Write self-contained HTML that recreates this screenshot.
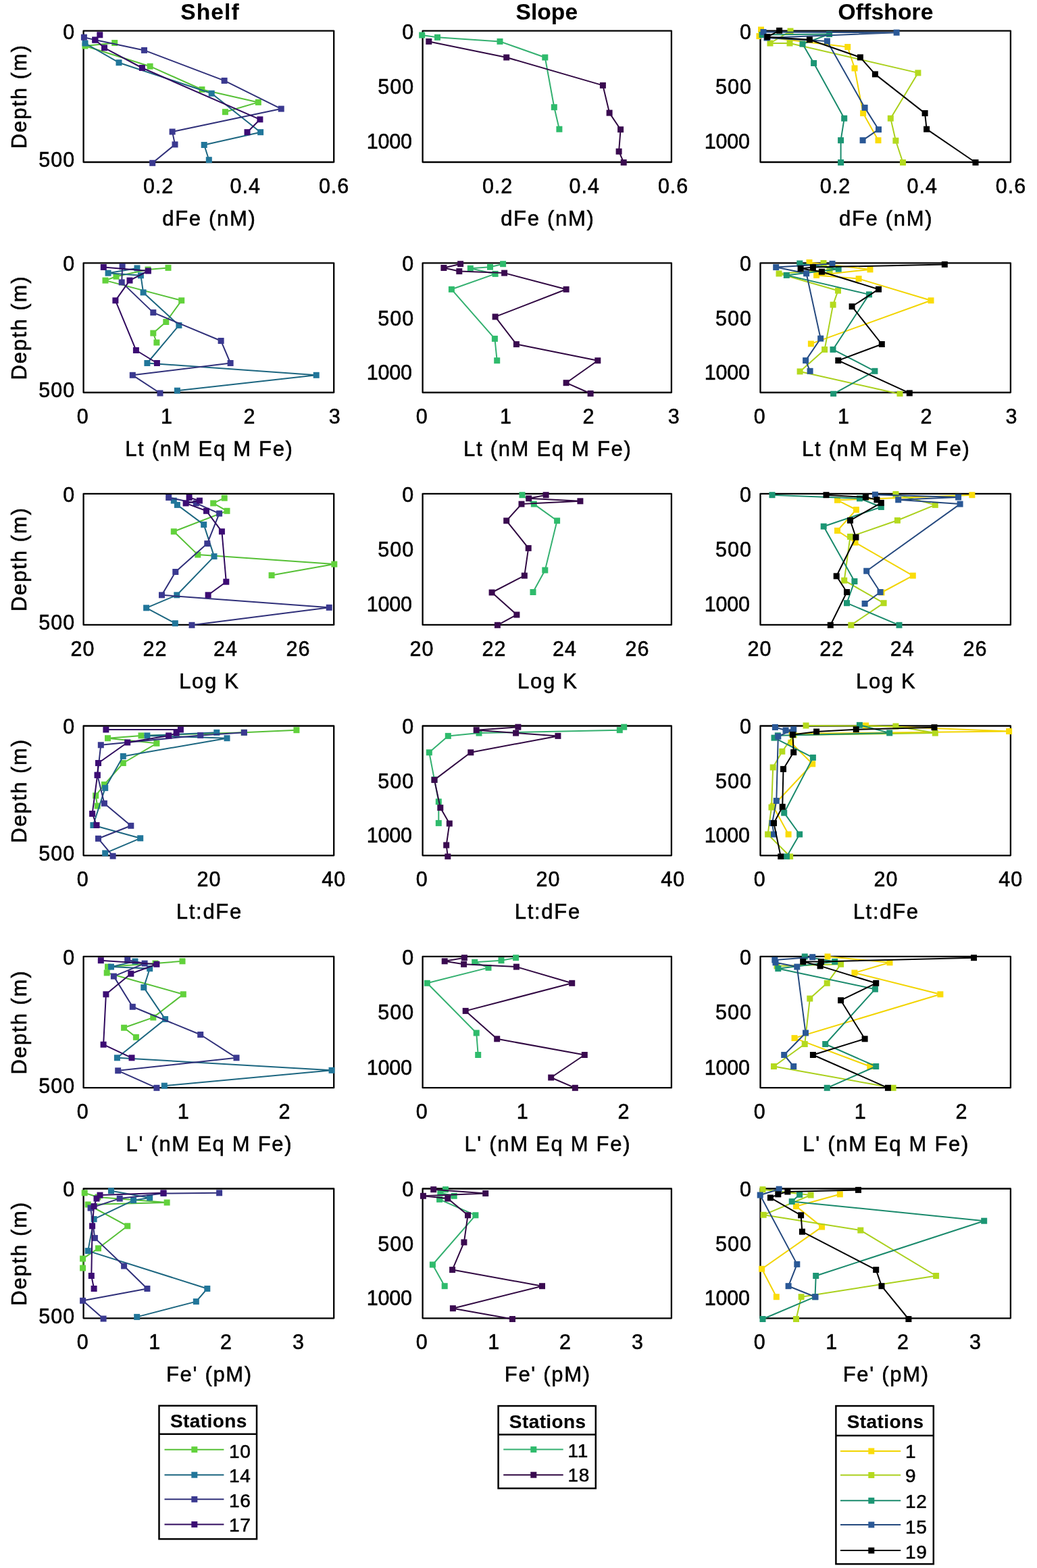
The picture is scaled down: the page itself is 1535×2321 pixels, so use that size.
<!DOCTYPE html>
<html><head><meta charset="utf-8"><title>Figure</title><style>html,body{margin:0;padding:0;background:#fff;overflow:hidden}svg{display:block}text{stroke:#000;stroke-width:0.55px}text[font-weight=bold]{stroke-width:0.15px}</style></head><body>
<svg width="1535" height="2321" viewBox="0 0 1535 2321" font-family="Liberation Sans, Arial, Helvetica, sans-serif">
<g>
<rect width="100%" height="100%" fill="#fff"/>
<g stroke-width="0" class="t">
<text x="311.0" y="28.6" font-size="33.5" font-weight="bold" letter-spacing="1.1" text-anchor="middle">Shelf</text>
<text x="809.3" y="28.6" font-size="33.5" font-weight="bold" letter-spacing="0.1" text-anchor="middle">Slope</text>
<text x="1311.1" y="28.6" font-size="33.5" font-weight="bold" letter-spacing="0.2" text-anchor="middle">Offshore</text>
<g>
<rect x="123.6" y="45.6" width="370.6" height="194.4" fill="none" stroke="#000" stroke-width="2.3" stroke-linejoin="round"/>
<clipPath id="c00"><rect x="117.6" y="39.6" width="382.6" height="206.4"/></clipPath>
<g clip-path="url(#c00)">
<polyline points="169.7,63.5 126.0,68.0 222.1,98.2 298.9,132.5 382.3,151.4 333.4,165.7" fill="none" stroke="#56c036" stroke-width="2" stroke-linejoin="round"/>
<rect x="165.2" y="59.0" width="9" height="9" fill="#62d23c"/>
<rect x="121.5" y="63.5" width="9" height="9" fill="#62d23c"/>
<rect x="217.6" y="93.7" width="9" height="9" fill="#62d23c"/>
<rect x="294.4" y="128.0" width="9" height="9" fill="#62d23c"/>
<rect x="377.8" y="146.9" width="9" height="9" fill="#62d23c"/>
<rect x="328.9" y="161.2" width="9" height="9" fill="#62d23c"/>
<polyline points="126.0,64.0 176.0,92.7 313.2,138.3 385.6,195.7 302.2,214.5 309.3,236.7" fill="none" stroke="#1c6680" stroke-width="2" stroke-linejoin="round"/>
<rect x="121.5" y="59.5" width="9" height="9" fill="#21769a"/>
<rect x="171.5" y="88.2" width="9" height="9" fill="#21769a"/>
<rect x="308.7" y="133.8" width="9" height="9" fill="#21769a"/>
<rect x="381.1" y="191.2" width="9" height="9" fill="#21769a"/>
<rect x="297.7" y="210.0" width="9" height="9" fill="#21769a"/>
<rect x="304.8" y="232.2" width="9" height="9" fill="#21769a"/>
<polyline points="124.4,55.2 140.8,59.1 213.5,74.4 332.1,119.4 416.2,161.1 255.1,195.0 259.0,213.9 225.7,241.3" fill="none" stroke="#30307a" stroke-width="2" stroke-linejoin="round"/>
<rect x="119.9" y="50.7" width="9" height="9" fill="#3a3990"/>
<rect x="136.3" y="54.6" width="9" height="9" fill="#3a3990"/>
<rect x="209.0" y="69.9" width="9" height="9" fill="#3a3990"/>
<rect x="327.6" y="114.9" width="9" height="9" fill="#3a3990"/>
<rect x="411.7" y="156.6" width="9" height="9" fill="#3a3990"/>
<rect x="250.6" y="190.5" width="9" height="9" fill="#3a3990"/>
<rect x="254.5" y="209.4" width="9" height="9" fill="#3a3990"/>
<rect x="221.2" y="236.8" width="9" height="9" fill="#3a3990"/>
<polyline points="147.8,51.7 140.8,59.1 154.5,70.8 210.4,100.5 384.9,176.8 366.0,195.7" fill="none" stroke="#300a5e" stroke-width="2" stroke-linejoin="round"/>
<rect x="143.3" y="47.2" width="9" height="9" fill="#3c0c74"/>
<rect x="136.3" y="54.6" width="9" height="9" fill="#3c0c74"/>
<rect x="150.0" y="66.3" width="9" height="9" fill="#3c0c74"/>
<rect x="205.9" y="96.0" width="9" height="9" fill="#3c0c74"/>
<rect x="380.4" y="172.3" width="9" height="9" fill="#3c0c74"/>
<rect x="361.5" y="191.2" width="9" height="9" fill="#3c0c74"/>
</g>
<text x="111.1" y="57.5" font-size="30.5" letter-spacing="1" text-anchor="end">0</text>
<text x="111.1" y="247.3" font-size="30.5" letter-spacing="1" text-anchor="end">500</text>
<text x="234.6" y="286.0" font-size="30.5" letter-spacing="1" text-anchor="middle">0.2</text>
<text x="363.3" y="286.0" font-size="30.5" letter-spacing="1" text-anchor="middle">0.4</text>
<text x="494.6" y="286.0" font-size="30.5" letter-spacing="1" text-anchor="middle">0.6</text>
<text x="309.9" y="334.0" font-size="31" letter-spacing="1.7" text-anchor="middle">dFe (nM)</text>
</g>
<g>
<rect x="625.6" y="45.6" width="368.3" height="194.4" fill="none" stroke="#000" stroke-width="2.3" stroke-linejoin="round"/>
<clipPath id="c01"><rect x="619.6" y="39.6" width="380.3" height="206.4"/></clipPath>
<g clip-path="url(#c01)">
<polyline points="624.7,52.0 647.5,55.3 740.0,61.4 806.8,85.0 820.3,158.7 827.9,191.2" fill="none" stroke="#34b070" stroke-width="2" stroke-linejoin="round"/>
<rect x="620.2" y="47.5" width="9" height="9" fill="#2fbb6c"/>
<rect x="643.0" y="50.8" width="9" height="9" fill="#2fbb6c"/>
<rect x="735.5" y="56.9" width="9" height="9" fill="#2fbb6c"/>
<rect x="802.3" y="80.5" width="9" height="9" fill="#2fbb6c"/>
<rect x="815.8" y="154.2" width="9" height="9" fill="#2fbb6c"/>
<rect x="823.4" y="186.7" width="9" height="9" fill="#2fbb6c"/>
<polyline points="634.8,61.4 749.7,85.0 892.4,126.4 902.1,167.1 918.6,191.7 916.1,224.2 923.2,240.5" fill="none" stroke="#300842" stroke-width="2" stroke-linejoin="round"/>
<rect x="630.3" y="56.9" width="9" height="9" fill="#3a0a50"/>
<rect x="745.2" y="80.5" width="9" height="9" fill="#3a0a50"/>
<rect x="887.9" y="121.9" width="9" height="9" fill="#3a0a50"/>
<rect x="897.6" y="162.6" width="9" height="9" fill="#3a0a50"/>
<rect x="914.1" y="187.2" width="9" height="9" fill="#3a0a50"/>
<rect x="911.6" y="219.7" width="9" height="9" fill="#3a0a50"/>
<rect x="918.7" y="236.0" width="9" height="9" fill="#3a0a50"/>
</g>
<text x="613.1" y="57.5" font-size="30.5" letter-spacing="1" text-anchor="end">0</text>
<text x="613.1" y="139.0" font-size="30.5" letter-spacing="1" text-anchor="end">500</text>
<text x="609.9" y="220.3" font-size="30.5" letter-spacing="-0.2" text-anchor="end">1000</text>
<text x="736.6" y="286.0" font-size="30.5" letter-spacing="1" text-anchor="middle">0.2</text>
<text x="865.3" y="286.0" font-size="30.5" letter-spacing="1" text-anchor="middle">0.4</text>
<text x="996.6" y="286.0" font-size="30.5" letter-spacing="1" text-anchor="middle">0.6</text>
<text x="810.8" y="334.0" font-size="31" letter-spacing="1.7" text-anchor="middle">dFe (nM)</text>
</g>
<g>
<rect x="1125.5" y="45.6" width="370.4" height="194.4" fill="none" stroke="#000" stroke-width="2.3" stroke-linejoin="round"/>
<clipPath id="c02"><rect x="1119.5" y="39.6" width="382.4" height="206.4"/></clipPath>
<g clip-path="url(#c02)">
<polyline points="1126.5,43.5 1121.5,53.5 1254.7,69.5 1265.0,101.0 1277.6,167.6 1300.0,207.7" fill="none" stroke="#f2d400" stroke-width="2" stroke-linejoin="round"/>
<rect x="1122.0" y="39.0" width="9" height="9" fill="#fadc0a"/>
<rect x="1117.0" y="49.0" width="9" height="9" fill="#fadc0a"/>
<rect x="1250.2" y="65.0" width="9" height="9" fill="#fadc0a"/>
<rect x="1260.5" y="96.5" width="9" height="9" fill="#fadc0a"/>
<rect x="1273.1" y="163.1" width="9" height="9" fill="#fadc0a"/>
<rect x="1295.5" y="203.2" width="9" height="9" fill="#fadc0a"/>
<polyline points="1170.0,46.0 1140.0,64.0 1169.0,64.0 1358.9,107.9 1318.3,175.2 1325.9,208.2 1336.5,240.5" fill="none" stroke="#aad01c" stroke-width="2" stroke-linejoin="round"/>
<rect x="1165.5" y="41.5" width="9" height="9" fill="#b4da1e"/>
<rect x="1135.5" y="59.5" width="9" height="9" fill="#b4da1e"/>
<rect x="1164.5" y="59.5" width="9" height="9" fill="#b4da1e"/>
<rect x="1354.4" y="103.4" width="9" height="9" fill="#b4da1e"/>
<rect x="1313.8" y="170.7" width="9" height="9" fill="#b4da1e"/>
<rect x="1321.4" y="203.7" width="9" height="9" fill="#b4da1e"/>
<rect x="1332.0" y="236.0" width="9" height="9" fill="#b4da1e"/>
<polyline points="1128.0,51.5 1227.6,50.5 1188.0,65.1 1204.6,93.5 1249.7,175.2 1244.6,207.7 1244.6,240.5" fill="none" stroke="#1a8a6c" stroke-width="2" stroke-linejoin="round"/>
<rect x="1123.5" y="47.0" width="9" height="9" fill="#1c9674"/>
<rect x="1223.1" y="46.0" width="9" height="9" fill="#1c9674"/>
<rect x="1183.5" y="60.6" width="9" height="9" fill="#1c9674"/>
<rect x="1200.1" y="89.0" width="9" height="9" fill="#1c9674"/>
<rect x="1245.2" y="170.7" width="9" height="9" fill="#1c9674"/>
<rect x="1240.1" y="203.2" width="9" height="9" fill="#1c9674"/>
<rect x="1240.1" y="236.0" width="9" height="9" fill="#1c9674"/>
<polyline points="1130.0,47.5 1327.1,48.2 1135.0,56.0 1224.4,60.9 1280.1,159.4 1300.5,191.7 1277.1,207.7" fill="none" stroke="#24487e" stroke-width="2" stroke-linejoin="round"/>
<rect x="1125.5" y="43.0" width="9" height="9" fill="#2a5896"/>
<rect x="1322.6" y="43.7" width="9" height="9" fill="#2a5896"/>
<rect x="1130.5" y="51.5" width="9" height="9" fill="#2a5896"/>
<rect x="1219.9" y="56.4" width="9" height="9" fill="#2a5896"/>
<rect x="1275.6" y="154.9" width="9" height="9" fill="#2a5896"/>
<rect x="1296.0" y="187.2" width="9" height="9" fill="#2a5896"/>
<rect x="1272.6" y="203.2" width="9" height="9" fill="#2a5896"/>
<polyline points="1153.6,45.3 1135.8,54.7 1198.4,58.8 1273.4,84.9 1295.4,109.9 1369.1,167.6 1371.6,191.2 1444.0,240.5" fill="none" stroke="#000000" stroke-width="2" stroke-linejoin="round"/>
<rect x="1149.1" y="40.8" width="9" height="9" fill="#000000"/>
<rect x="1131.3" y="50.2" width="9" height="9" fill="#000000"/>
<rect x="1193.9" y="54.3" width="9" height="9" fill="#000000"/>
<rect x="1268.9" y="80.4" width="9" height="9" fill="#000000"/>
<rect x="1290.9" y="105.4" width="9" height="9" fill="#000000"/>
<rect x="1364.6" y="163.1" width="9" height="9" fill="#000000"/>
<rect x="1367.1" y="186.7" width="9" height="9" fill="#000000"/>
<rect x="1439.5" y="236.0" width="9" height="9" fill="#000000"/>
</g>
<text x="1113.0" y="57.5" font-size="30.5" letter-spacing="1" text-anchor="end">0</text>
<text x="1113.0" y="139.0" font-size="30.5" letter-spacing="1" text-anchor="end">500</text>
<text x="1109.8" y="220.3" font-size="30.5" letter-spacing="-0.2" text-anchor="end">1000</text>
<text x="1236.5" y="286.0" font-size="30.5" letter-spacing="1" text-anchor="middle">0.2</text>
<text x="1365.2" y="286.0" font-size="30.5" letter-spacing="1" text-anchor="middle">0.4</text>
<text x="1496.5" y="286.0" font-size="30.5" letter-spacing="1" text-anchor="middle">0.6</text>
<text x="1311.7" y="334.0" font-size="31" letter-spacing="1.7" text-anchor="middle">dFe (nM)</text>
</g>
<text transform="translate(39,142.8) rotate(-90)" x="0" y="0" font-size="31" letter-spacing="1.9" text-anchor="middle">Depth (m)</text>
<g>
<rect x="123.6" y="389.3" width="370.6" height="191.7" fill="none" stroke="#000" stroke-width="2.3" stroke-linejoin="round"/>
<clipPath id="c10"><rect x="117.6" y="383.3" width="382.6" height="203.7"/></clipPath>
<g clip-path="url(#c10)">
<polyline points="249.0,396.4 219.0,399.0 172.0,409.2 156.0,415.1 268.7,444.8 245.8,476.5 226.8,493.1 231.9,507.0" fill="none" stroke="#56c036" stroke-width="2" stroke-linejoin="round"/>
<rect x="244.5" y="391.9" width="9" height="9" fill="#62d23c"/>
<rect x="214.5" y="394.5" width="9" height="9" fill="#62d23c"/>
<rect x="167.5" y="404.7" width="9" height="9" fill="#62d23c"/>
<rect x="151.5" y="410.6" width="9" height="9" fill="#62d23c"/>
<rect x="264.2" y="440.3" width="9" height="9" fill="#62d23c"/>
<rect x="241.3" y="472.0" width="9" height="9" fill="#62d23c"/>
<rect x="222.3" y="488.6" width="9" height="9" fill="#62d23c"/>
<rect x="227.4" y="502.5" width="9" height="9" fill="#62d23c"/>
<polyline points="203.0,396.9 160.1,404.2 208.4,407.8 212.1,432.9 264.9,481.6 217.9,537.5 468.2,555.3 262.4,578.2" fill="none" stroke="#1c6680" stroke-width="2" stroke-linejoin="round"/>
<rect x="198.5" y="392.4" width="9" height="9" fill="#21769a"/>
<rect x="155.6" y="399.7" width="9" height="9" fill="#21769a"/>
<rect x="203.9" y="403.3" width="9" height="9" fill="#21769a"/>
<rect x="207.6" y="428.4" width="9" height="9" fill="#21769a"/>
<rect x="260.4" y="477.1" width="9" height="9" fill="#21769a"/>
<rect x="213.4" y="533.0" width="9" height="9" fill="#21769a"/>
<rect x="463.7" y="550.8" width="9" height="9" fill="#21769a"/>
<rect x="257.9" y="573.7" width="9" height="9" fill="#21769a"/>
<polyline points="181.1,394.6 180.2,417.9 226.8,462.6 327.1,504.5 341.1,537.5 196.3,555.3 237.0,582.0" fill="none" stroke="#30307a" stroke-width="2" stroke-linejoin="round"/>
<rect x="176.6" y="390.1" width="9" height="9" fill="#3a3990"/>
<rect x="175.7" y="413.4" width="9" height="9" fill="#3a3990"/>
<rect x="222.3" y="458.1" width="9" height="9" fill="#3a3990"/>
<rect x="322.6" y="500.0" width="9" height="9" fill="#3a3990"/>
<rect x="336.6" y="533.0" width="9" height="9" fill="#3a3990"/>
<rect x="191.8" y="550.8" width="9" height="9" fill="#3a3990"/>
<rect x="232.5" y="577.5" width="9" height="9" fill="#3a3990"/>
<polyline points="153.3,395.5 219.4,401.0 192.0,415.1 170.9,444.8 201.4,518.5 232.4,537.5" fill="none" stroke="#300a5e" stroke-width="2" stroke-linejoin="round"/>
<rect x="148.8" y="391.0" width="9" height="9" fill="#3c0c74"/>
<rect x="214.9" y="396.5" width="9" height="9" fill="#3c0c74"/>
<rect x="187.5" y="410.6" width="9" height="9" fill="#3c0c74"/>
<rect x="166.4" y="440.3" width="9" height="9" fill="#3c0c74"/>
<rect x="196.9" y="514.0" width="9" height="9" fill="#3c0c74"/>
<rect x="227.9" y="533.0" width="9" height="9" fill="#3c0c74"/>
</g>
<text x="111.1" y="401.2" font-size="30.5" letter-spacing="1" text-anchor="end">0</text>
<text x="111.1" y="588.3" font-size="30.5" letter-spacing="1" text-anchor="end">500</text>
<text x="122.8" y="627.0" font-size="30.5" letter-spacing="1" text-anchor="middle">0</text>
<text x="247.1" y="627.0" font-size="30.5" letter-spacing="1" text-anchor="middle">1</text>
<text x="369.6" y="627.0" font-size="30.5" letter-spacing="1" text-anchor="middle">2</text>
<text x="495.7" y="627.0" font-size="30.5" letter-spacing="1" text-anchor="middle">3</text>
<text x="309.9" y="675.0" font-size="31" letter-spacing="1.7" text-anchor="middle">Lt (nM Eq M Fe)</text>
</g>
<g>
<rect x="625.6" y="389.3" width="368.3" height="191.7" fill="none" stroke="#000" stroke-width="2.3" stroke-linejoin="round"/>
<clipPath id="c11"><rect x="619.6" y="383.3" width="380.3" height="203.7"/></clipPath>
<g clip-path="url(#c11)">
<polyline points="744.6,390.7 725.5,395.2 696.3,397.3 733.1,405.4 668.4,428.3 732.4,501.4 735.7,533.7" fill="none" stroke="#34b070" stroke-width="2" stroke-linejoin="round"/>
<rect x="740.1" y="386.2" width="9" height="9" fill="#2fbb6c"/>
<rect x="721.0" y="390.7" width="9" height="9" fill="#2fbb6c"/>
<rect x="691.8" y="392.8" width="9" height="9" fill="#2fbb6c"/>
<rect x="728.6" y="400.9" width="9" height="9" fill="#2fbb6c"/>
<rect x="663.9" y="423.8" width="9" height="9" fill="#2fbb6c"/>
<rect x="727.9" y="496.9" width="9" height="9" fill="#2fbb6c"/>
<rect x="731.2" y="529.2" width="9" height="9" fill="#2fbb6c"/>
<polyline points="681.6,390.7 656.9,396.5 679.8,401.6 746.6,404.1 838.1,428.3 733.1,468.9 764.4,509.6 884.8,533.7 838.1,566.7 874.1,582.5" fill="none" stroke="#300842" stroke-width="2" stroke-linejoin="round"/>
<rect x="677.1" y="386.2" width="9" height="9" fill="#3a0a50"/>
<rect x="652.4" y="392.0" width="9" height="9" fill="#3a0a50"/>
<rect x="675.3" y="397.1" width="9" height="9" fill="#3a0a50"/>
<rect x="742.1" y="399.6" width="9" height="9" fill="#3a0a50"/>
<rect x="833.6" y="423.8" width="9" height="9" fill="#3a0a50"/>
<rect x="728.6" y="464.4" width="9" height="9" fill="#3a0a50"/>
<rect x="759.9" y="505.1" width="9" height="9" fill="#3a0a50"/>
<rect x="880.3" y="529.2" width="9" height="9" fill="#3a0a50"/>
<rect x="833.6" y="562.2" width="9" height="9" fill="#3a0a50"/>
<rect x="869.6" y="578.0" width="9" height="9" fill="#3a0a50"/>
</g>
<text x="613.1" y="401.2" font-size="30.5" letter-spacing="1" text-anchor="end">0</text>
<text x="613.1" y="481.6" font-size="30.5" letter-spacing="1" text-anchor="end">500</text>
<text x="609.9" y="561.7" font-size="30.5" letter-spacing="-0.2" text-anchor="end">1000</text>
<text x="624.8" y="627.0" font-size="30.5" letter-spacing="1" text-anchor="middle">0</text>
<text x="749.1" y="627.0" font-size="30.5" letter-spacing="1" text-anchor="middle">1</text>
<text x="871.6" y="627.0" font-size="30.5" letter-spacing="1" text-anchor="middle">2</text>
<text x="997.7" y="627.0" font-size="30.5" letter-spacing="1" text-anchor="middle">3</text>
<text x="810.8" y="675.0" font-size="31" letter-spacing="1.7" text-anchor="middle">Lt (nM Eq M Fe)</text>
</g>
<g>
<rect x="1125.5" y="389.3" width="370.4" height="191.7" fill="none" stroke="#000" stroke-width="2.3" stroke-linejoin="round"/>
<clipPath id="c12"><rect x="1119.5" y="383.3" width="382.4" height="203.7"/></clipPath>
<g clip-path="url(#c12)">
<polyline points="1198.0,388.5 1288.0,398.9 1208.6,407.4 1271.1,412.6 1378.0,444.8 1200.4,508.9" fill="none" stroke="#f2d400" stroke-width="2" stroke-linejoin="round"/>
<rect x="1193.5" y="384.0" width="9" height="9" fill="#fadc0a"/>
<rect x="1283.5" y="394.4" width="9" height="9" fill="#fadc0a"/>
<rect x="1204.1" y="402.9" width="9" height="9" fill="#fadc0a"/>
<rect x="1266.6" y="408.1" width="9" height="9" fill="#fadc0a"/>
<rect x="1373.5" y="440.3" width="9" height="9" fill="#fadc0a"/>
<rect x="1195.9" y="504.4" width="9" height="9" fill="#fadc0a"/>
<polyline points="1219.0,389.5 1228.1,399.5 1153.0,405.0 1240.5,430.2 1233.1,451.1 1220.6,517.4 1184.1,549.9 1332.0,583.2" fill="none" stroke="#aad01c" stroke-width="2" stroke-linejoin="round"/>
<rect x="1214.5" y="385.0" width="9" height="9" fill="#b4da1e"/>
<rect x="1223.6" y="395.0" width="9" height="9" fill="#b4da1e"/>
<rect x="1148.5" y="400.5" width="9" height="9" fill="#b4da1e"/>
<rect x="1236.0" y="425.7" width="9" height="9" fill="#b4da1e"/>
<rect x="1228.6" y="446.6" width="9" height="9" fill="#b4da1e"/>
<rect x="1216.1" y="512.9" width="9" height="9" fill="#b4da1e"/>
<rect x="1179.6" y="545.4" width="9" height="9" fill="#b4da1e"/>
<rect x="1327.5" y="578.7" width="9" height="9" fill="#b4da1e"/>
<polyline points="1183.8,390.0 1241.2,398.2 1164.3,407.4 1286.5,435.9 1233.0,517.4 1294.9,549.3 1233.6,583.2" fill="none" stroke="#1a8a6c" stroke-width="2" stroke-linejoin="round"/>
<rect x="1179.3" y="385.5" width="9" height="9" fill="#1c9674"/>
<rect x="1236.7" y="393.7" width="9" height="9" fill="#1c9674"/>
<rect x="1159.8" y="402.9" width="9" height="9" fill="#1c9674"/>
<rect x="1282.0" y="431.4" width="9" height="9" fill="#1c9674"/>
<rect x="1228.5" y="512.9" width="9" height="9" fill="#1c9674"/>
<rect x="1290.4" y="544.8" width="9" height="9" fill="#1c9674"/>
<rect x="1229.1" y="578.7" width="9" height="9" fill="#1c9674"/>
<polyline points="1232.0,390.4 1148.7,395.6 1193.6,404.8 1214.7,501.1 1192.6,533.6 1199.1,549.3" fill="none" stroke="#24487e" stroke-width="2" stroke-linejoin="round"/>
<rect x="1227.5" y="385.9" width="9" height="9" fill="#2a5896"/>
<rect x="1144.2" y="391.1" width="9" height="9" fill="#2a5896"/>
<rect x="1189.1" y="400.3" width="9" height="9" fill="#2a5896"/>
<rect x="1210.2" y="496.6" width="9" height="9" fill="#2a5896"/>
<rect x="1188.1" y="529.1" width="9" height="9" fill="#2a5896"/>
<rect x="1194.6" y="544.8" width="9" height="9" fill="#2a5896"/>
<polyline points="1398.3,391.4 1203.4,395.6 1185.1,397.6 1216.4,402.2 1300.5,428.2 1261.1,453.7 1305.3,509.5 1240.8,533.6 1346.3,581.9" fill="none" stroke="#000000" stroke-width="2" stroke-linejoin="round"/>
<rect x="1393.8" y="386.9" width="9" height="9" fill="#000000"/>
<rect x="1198.9" y="391.1" width="9" height="9" fill="#000000"/>
<rect x="1180.6" y="393.1" width="9" height="9" fill="#000000"/>
<rect x="1211.9" y="397.7" width="9" height="9" fill="#000000"/>
<rect x="1296.0" y="423.7" width="9" height="9" fill="#000000"/>
<rect x="1256.6" y="449.2" width="9" height="9" fill="#000000"/>
<rect x="1300.8" y="505.0" width="9" height="9" fill="#000000"/>
<rect x="1236.3" y="529.1" width="9" height="9" fill="#000000"/>
<rect x="1341.8" y="577.4" width="9" height="9" fill="#000000"/>
</g>
<text x="1113.0" y="401.2" font-size="30.5" letter-spacing="1" text-anchor="end">0</text>
<text x="1113.0" y="481.6" font-size="30.5" letter-spacing="1" text-anchor="end">500</text>
<text x="1109.8" y="561.7" font-size="30.5" letter-spacing="-0.2" text-anchor="end">1000</text>
<text x="1124.7" y="627.0" font-size="30.5" letter-spacing="1" text-anchor="middle">0</text>
<text x="1249.0" y="627.0" font-size="30.5" letter-spacing="1" text-anchor="middle">1</text>
<text x="1371.5" y="627.0" font-size="30.5" letter-spacing="1" text-anchor="middle">2</text>
<text x="1497.6" y="627.0" font-size="30.5" letter-spacing="1" text-anchor="middle">3</text>
<text x="1311.7" y="675.0" font-size="31" letter-spacing="1.7" text-anchor="middle">Lt (nM Eq M Fe)</text>
</g>
<text transform="translate(39,485.1) rotate(-90)" x="0" y="0" font-size="31" letter-spacing="1.9" text-anchor="middle">Depth (m)</text>
<g>
<rect x="123.6" y="730.8" width="370.6" height="194.1" fill="none" stroke="#000" stroke-width="2.3" stroke-linejoin="round"/>
<clipPath id="c20"><rect x="117.6" y="724.8" width="382.6" height="206.1"/></clipPath>
<g clip-path="url(#c20)">
<polyline points="332.2,737.2 315.7,744.9 336.0,756.3 257.3,786.8 292.8,821.1 494.8,835.1 402.1,851.6" fill="none" stroke="#56c036" stroke-width="2" stroke-linejoin="round"/>
<rect x="327.7" y="732.7" width="9" height="9" fill="#62d23c"/>
<rect x="311.2" y="740.4" width="9" height="9" fill="#62d23c"/>
<rect x="331.5" y="751.8" width="9" height="9" fill="#62d23c"/>
<rect x="252.8" y="782.3" width="9" height="9" fill="#62d23c"/>
<rect x="288.3" y="816.6" width="9" height="9" fill="#62d23c"/>
<rect x="490.3" y="830.6" width="9" height="9" fill="#62d23c"/>
<rect x="397.6" y="847.1" width="9" height="9" fill="#62d23c"/>
<polyline points="257.3,741.1 262.4,747.4 301.7,776.6 317.0,823.6 261.8,880.8 216.6,899.8 259.3,922.7" fill="none" stroke="#1c6680" stroke-width="2" stroke-linejoin="round"/>
<rect x="252.8" y="736.6" width="9" height="9" fill="#21769a"/>
<rect x="257.9" y="742.9" width="9" height="9" fill="#21769a"/>
<rect x="297.2" y="772.1" width="9" height="9" fill="#21769a"/>
<rect x="312.5" y="819.1" width="9" height="9" fill="#21769a"/>
<rect x="257.3" y="876.3" width="9" height="9" fill="#21769a"/>
<rect x="212.1" y="895.3" width="9" height="9" fill="#21769a"/>
<rect x="254.8" y="918.2" width="9" height="9" fill="#21769a"/>
<polyline points="249.7,736.5 290.3,744.9 324.6,760.1 306.8,804.6 259.8,846.5 239.5,880.8 487.2,899.3 284.0,925.3" fill="none" stroke="#30307a" stroke-width="2" stroke-linejoin="round"/>
<rect x="245.2" y="732.0" width="9" height="9" fill="#3a3990"/>
<rect x="285.8" y="740.4" width="9" height="9" fill="#3a3990"/>
<rect x="320.1" y="755.6" width="9" height="9" fill="#3a3990"/>
<rect x="302.3" y="800.1" width="9" height="9" fill="#3a3990"/>
<rect x="255.3" y="842.0" width="9" height="9" fill="#3a3990"/>
<rect x="235.0" y="876.3" width="9" height="9" fill="#3a3990"/>
<rect x="482.7" y="894.8" width="9" height="9" fill="#3a3990"/>
<rect x="279.5" y="920.8" width="9" height="9" fill="#3a3990"/>
<polyline points="280.1,736.5 295.4,741.1 275.1,744.9 305.5,756.3 328.4,786.8 334.8,861.2 308.1,880.8" fill="none" stroke="#300a5e" stroke-width="2" stroke-linejoin="round"/>
<rect x="275.6" y="732.0" width="9" height="9" fill="#3c0c74"/>
<rect x="290.9" y="736.6" width="9" height="9" fill="#3c0c74"/>
<rect x="270.6" y="740.4" width="9" height="9" fill="#3c0c74"/>
<rect x="301.0" y="751.8" width="9" height="9" fill="#3c0c74"/>
<rect x="323.9" y="782.3" width="9" height="9" fill="#3c0c74"/>
<rect x="330.3" y="856.7" width="9" height="9" fill="#3c0c74"/>
<rect x="303.6" y="876.3" width="9" height="9" fill="#3c0c74"/>
</g>
<text x="111.1" y="742.7" font-size="30.5" letter-spacing="1" text-anchor="end">0</text>
<text x="111.1" y="932.2" font-size="30.5" letter-spacing="1" text-anchor="end">500</text>
<text x="122.5" y="970.9" font-size="30.5" letter-spacing="1" text-anchor="middle">20</text>
<text x="229.4" y="970.9" font-size="30.5" letter-spacing="1" text-anchor="middle">22</text>
<text x="333.9" y="970.9" font-size="30.5" letter-spacing="1" text-anchor="middle">24</text>
<text x="441.5" y="970.9" font-size="30.5" letter-spacing="1" text-anchor="middle">26</text>
<text x="309.9" y="1018.9" font-size="31" letter-spacing="1.7" text-anchor="middle">Log K</text>
</g>
<g>
<rect x="625.6" y="730.8" width="368.3" height="194.1" fill="none" stroke="#000" stroke-width="2.3" stroke-linejoin="round"/>
<clipPath id="c21"><rect x="619.6" y="724.8" width="380.3" height="206.1"/></clipPath>
<g clip-path="url(#c21)">
<polyline points="773.0,732.7 790.3,746.1 824.6,770.8 806.8,844.0 789.0,876.5" fill="none" stroke="#34b070" stroke-width="2" stroke-linejoin="round"/>
<rect x="768.5" y="728.2" width="9" height="9" fill="#2fbb6c"/>
<rect x="785.8" y="741.6" width="9" height="9" fill="#2fbb6c"/>
<rect x="820.1" y="766.3" width="9" height="9" fill="#2fbb6c"/>
<rect x="802.3" y="839.5" width="9" height="9" fill="#2fbb6c"/>
<rect x="784.5" y="872.0" width="9" height="9" fill="#2fbb6c"/>
<polyline points="808.1,732.7 782.7,737.8 858.9,741.8 772.0,746.1 749.7,770.8 782.2,811.4 776.3,852.1 728.1,877.0 764.9,910.0 736.4,925.3" fill="none" stroke="#300842" stroke-width="2" stroke-linejoin="round"/>
<rect x="803.6" y="728.2" width="9" height="9" fill="#3a0a50"/>
<rect x="778.2" y="733.3" width="9" height="9" fill="#3a0a50"/>
<rect x="854.4" y="737.3" width="9" height="9" fill="#3a0a50"/>
<rect x="767.5" y="741.6" width="9" height="9" fill="#3a0a50"/>
<rect x="745.2" y="766.3" width="9" height="9" fill="#3a0a50"/>
<rect x="777.7" y="806.9" width="9" height="9" fill="#3a0a50"/>
<rect x="771.8" y="847.6" width="9" height="9" fill="#3a0a50"/>
<rect x="723.6" y="872.5" width="9" height="9" fill="#3a0a50"/>
<rect x="760.4" y="905.5" width="9" height="9" fill="#3a0a50"/>
<rect x="731.9" y="920.8" width="9" height="9" fill="#3a0a50"/>
</g>
<text x="613.1" y="742.7" font-size="30.5" letter-spacing="1" text-anchor="end">0</text>
<text x="613.1" y="824.1" font-size="30.5" letter-spacing="1" text-anchor="end">500</text>
<text x="609.9" y="905.2" font-size="30.5" letter-spacing="-0.2" text-anchor="end">1000</text>
<text x="624.5" y="970.9" font-size="30.5" letter-spacing="1" text-anchor="middle">20</text>
<text x="731.4" y="970.9" font-size="30.5" letter-spacing="1" text-anchor="middle">22</text>
<text x="835.9" y="970.9" font-size="30.5" letter-spacing="1" text-anchor="middle">24</text>
<text x="943.5" y="970.9" font-size="30.5" letter-spacing="1" text-anchor="middle">26</text>
<text x="810.8" y="1018.9" font-size="31" letter-spacing="1.7" text-anchor="middle">Log K</text>
</g>
<g>
<rect x="1125.5" y="730.8" width="370.4" height="194.1" fill="none" stroke="#000" stroke-width="2.3" stroke-linejoin="round"/>
<clipPath id="c22"><rect x="1119.5" y="724.8" width="382.4" height="206.1"/></clipPath>
<g clip-path="url(#c22)">
<polyline points="1438.9,732.7 1239.5,740.3 1267.4,754.5 1239.5,785.5 1266.0,803.0 1351.3,852.1 1305.0,877.0" fill="none" stroke="#f2d400" stroke-width="2" stroke-linejoin="round"/>
<rect x="1434.4" y="728.2" width="9" height="9" fill="#fadc0a"/>
<rect x="1235.0" y="735.8" width="9" height="9" fill="#fadc0a"/>
<rect x="1262.9" y="750.0" width="9" height="9" fill="#fadc0a"/>
<rect x="1235.0" y="781.0" width="9" height="9" fill="#fadc0a"/>
<rect x="1261.5" y="798.5" width="9" height="9" fill="#fadc0a"/>
<rect x="1346.8" y="847.6" width="9" height="9" fill="#fadc0a"/>
<rect x="1300.5" y="872.5" width="9" height="9" fill="#fadc0a"/>
<polyline points="1325.9,731.5 1384.3,747.4 1328.4,770.3 1258.5,794.4 1249.7,859.2 1308.1,892.7 1259.8,925.3" fill="none" stroke="#aad01c" stroke-width="2" stroke-linejoin="round"/>
<rect x="1321.4" y="727.0" width="9" height="9" fill="#b4da1e"/>
<rect x="1379.8" y="742.9" width="9" height="9" fill="#b4da1e"/>
<rect x="1323.9" y="765.8" width="9" height="9" fill="#b4da1e"/>
<rect x="1254.0" y="789.9" width="9" height="9" fill="#b4da1e"/>
<rect x="1245.2" y="854.7" width="9" height="9" fill="#b4da1e"/>
<rect x="1303.6" y="888.2" width="9" height="9" fill="#b4da1e"/>
<rect x="1255.3" y="920.8" width="9" height="9" fill="#b4da1e"/>
<polyline points="1143.0,732.7 1272.5,737.8 1304.3,750.5 1219.2,779.2 1264.9,860.5 1253.5,892.7 1331.0,925.3" fill="none" stroke="#1a8a6c" stroke-width="2" stroke-linejoin="round"/>
<rect x="1138.5" y="728.2" width="9" height="9" fill="#1c9674"/>
<rect x="1268.0" y="733.3" width="9" height="9" fill="#1c9674"/>
<rect x="1299.8" y="746.0" width="9" height="9" fill="#1c9674"/>
<rect x="1214.7" y="774.7" width="9" height="9" fill="#1c9674"/>
<rect x="1260.4" y="856.0" width="9" height="9" fill="#1c9674"/>
<rect x="1249.0" y="888.2" width="9" height="9" fill="#1c9674"/>
<rect x="1326.5" y="920.8" width="9" height="9" fill="#1c9674"/>
<polyline points="1295.4,732.2 1418.6,736.0 1329.7,739.8 1421.1,746.1 1282.7,845.2 1303.0,876.5 1280.1,893.5" fill="none" stroke="#24487e" stroke-width="2" stroke-linejoin="round"/>
<rect x="1290.9" y="727.7" width="9" height="9" fill="#2a5896"/>
<rect x="1414.1" y="731.5" width="9" height="9" fill="#2a5896"/>
<rect x="1325.2" y="735.3" width="9" height="9" fill="#2a5896"/>
<rect x="1416.6" y="741.6" width="9" height="9" fill="#2a5896"/>
<rect x="1278.2" y="840.7" width="9" height="9" fill="#2a5896"/>
<rect x="1298.5" y="872.0" width="9" height="9" fill="#2a5896"/>
<rect x="1275.6" y="889.0" width="9" height="9" fill="#2a5896"/>
<polyline points="1223.0,732.7 1281.4,736.0 1297.9,739.8 1304.3,744.4 1258.5,770.3 1266.9,795.2 1238.2,852.8 1253.5,876.5 1229.3,925.3" fill="none" stroke="#000000" stroke-width="2" stroke-linejoin="round"/>
<rect x="1218.5" y="728.2" width="9" height="9" fill="#000000"/>
<rect x="1276.9" y="731.5" width="9" height="9" fill="#000000"/>
<rect x="1293.4" y="735.3" width="9" height="9" fill="#000000"/>
<rect x="1299.8" y="739.9" width="9" height="9" fill="#000000"/>
<rect x="1254.0" y="765.8" width="9" height="9" fill="#000000"/>
<rect x="1262.4" y="790.7" width="9" height="9" fill="#000000"/>
<rect x="1233.7" y="848.3" width="9" height="9" fill="#000000"/>
<rect x="1249.0" y="872.0" width="9" height="9" fill="#000000"/>
<rect x="1224.8" y="920.8" width="9" height="9" fill="#000000"/>
</g>
<text x="1113.0" y="742.7" font-size="30.5" letter-spacing="1" text-anchor="end">0</text>
<text x="1113.0" y="824.1" font-size="30.5" letter-spacing="1" text-anchor="end">500</text>
<text x="1109.8" y="905.2" font-size="30.5" letter-spacing="-0.2" text-anchor="end">1000</text>
<text x="1124.4" y="970.9" font-size="30.5" letter-spacing="1" text-anchor="middle">20</text>
<text x="1231.3" y="970.9" font-size="30.5" letter-spacing="1" text-anchor="middle">22</text>
<text x="1335.8" y="970.9" font-size="30.5" letter-spacing="1" text-anchor="middle">24</text>
<text x="1443.4" y="970.9" font-size="30.5" letter-spacing="1" text-anchor="middle">26</text>
<text x="1311.7" y="1018.9" font-size="31" letter-spacing="1.7" text-anchor="middle">Log K</text>
</g>
<text transform="translate(39,827.8) rotate(-90)" x="0" y="0" font-size="31" letter-spacing="1.9" text-anchor="middle">Depth (m)</text>
<g>
<rect x="123.6" y="1074.5" width="370.6" height="191.8" fill="none" stroke="#000" stroke-width="2.3" stroke-linejoin="round"/>
<clipPath id="c30"><rect x="117.6" y="1068.5" width="382.6" height="203.8"/></clipPath>
<g clip-path="url(#c30)">
<polyline points="438.9,1080.7 361.0,1084.3 209.0,1088.9 159.5,1092.7 231.9,1100.3 182.3,1129.5 154.4,1161.3 141.7,1177.8 144.2,1193.0" fill="none" stroke="#56c036" stroke-width="2" stroke-linejoin="round"/>
<rect x="434.4" y="1076.2" width="9" height="9" fill="#62d23c"/>
<rect x="356.5" y="1079.8" width="9" height="9" fill="#62d23c"/>
<rect x="204.5" y="1084.4" width="9" height="9" fill="#62d23c"/>
<rect x="155.0" y="1088.2" width="9" height="9" fill="#62d23c"/>
<rect x="227.4" y="1095.8" width="9" height="9" fill="#62d23c"/>
<rect x="177.8" y="1125.0" width="9" height="9" fill="#62d23c"/>
<rect x="149.9" y="1156.8" width="9" height="9" fill="#62d23c"/>
<rect x="137.2" y="1173.3" width="9" height="9" fill="#62d23c"/>
<rect x="139.7" y="1188.5" width="9" height="9" fill="#62d23c"/>
<polyline points="320.8,1084.3 217.9,1088.9 336.0,1092.7 182.3,1119.4 155.7,1166.4 137.9,1221.5 207.7,1240.8 155.7,1262.9" fill="none" stroke="#1c6680" stroke-width="2" stroke-linejoin="round"/>
<rect x="316.3" y="1079.8" width="9" height="9" fill="#21769a"/>
<rect x="213.4" y="1084.4" width="9" height="9" fill="#21769a"/>
<rect x="331.5" y="1088.2" width="9" height="9" fill="#21769a"/>
<rect x="177.8" y="1114.9" width="9" height="9" fill="#21769a"/>
<rect x="151.2" y="1161.9" width="9" height="9" fill="#21769a"/>
<rect x="133.4" y="1217.0" width="9" height="9" fill="#21769a"/>
<rect x="203.2" y="1236.3" width="9" height="9" fill="#21769a"/>
<rect x="151.2" y="1258.4" width="9" height="9" fill="#21769a"/>
<polyline points="361.4,1084.3 296.7,1088.4 149.3,1102.8 144.2,1147.3 154.4,1189.2 193.8,1222.3 145.5,1241.3 167.1,1267.2" fill="none" stroke="#30307a" stroke-width="2" stroke-linejoin="round"/>
<rect x="356.9" y="1079.8" width="9" height="9" fill="#3a3990"/>
<rect x="292.2" y="1083.9" width="9" height="9" fill="#3a3990"/>
<rect x="144.8" y="1098.3" width="9" height="9" fill="#3a3990"/>
<rect x="139.7" y="1142.8" width="9" height="9" fill="#3a3990"/>
<rect x="149.9" y="1184.7" width="9" height="9" fill="#3a3990"/>
<rect x="189.3" y="1217.8" width="9" height="9" fill="#3a3990"/>
<rect x="141.0" y="1236.8" width="9" height="9" fill="#3a3990"/>
<rect x="162.6" y="1262.7" width="9" height="9" fill="#3a3990"/>
<polyline points="156.9,1080.0 267.4,1080.0 261.1,1085.1 249.7,1088.9 188.7,1099.0 145.5,1129.5 144.2,1147.3 136.6,1204.5 143.0,1221.5" fill="none" stroke="#300a5e" stroke-width="2" stroke-linejoin="round"/>
<rect x="152.4" y="1075.5" width="9" height="9" fill="#3c0c74"/>
<rect x="262.9" y="1075.5" width="9" height="9" fill="#3c0c74"/>
<rect x="256.6" y="1080.6" width="9" height="9" fill="#3c0c74"/>
<rect x="245.2" y="1084.4" width="9" height="9" fill="#3c0c74"/>
<rect x="184.2" y="1094.5" width="9" height="9" fill="#3c0c74"/>
<rect x="141.0" y="1125.0" width="9" height="9" fill="#3c0c74"/>
<rect x="139.7" y="1142.8" width="9" height="9" fill="#3c0c74"/>
<rect x="132.1" y="1200.0" width="9" height="9" fill="#3c0c74"/>
<rect x="138.5" y="1217.0" width="9" height="9" fill="#3c0c74"/>
</g>
<text x="111.1" y="1086.4" font-size="30.5" letter-spacing="1" text-anchor="end">0</text>
<text x="111.1" y="1273.6" font-size="30.5" letter-spacing="1" text-anchor="end">500</text>
<text x="122.8" y="1312.3" font-size="30.5" letter-spacing="1" text-anchor="middle">0</text>
<text x="309.5" y="1312.3" font-size="30.5" letter-spacing="1" text-anchor="middle">20</text>
<text x="494.3" y="1312.3" font-size="30.5" letter-spacing="1" text-anchor="middle">40</text>
<text x="309.9" y="1360.3" font-size="31" letter-spacing="1.7" text-anchor="middle">Lt:dFe</text>
</g>
<g>
<rect x="625.6" y="1074.5" width="368.3" height="191.8" fill="none" stroke="#000" stroke-width="2.3" stroke-linejoin="round"/>
<clipPath id="c31"><rect x="619.6" y="1068.5" width="380.3" height="203.8"/></clipPath>
<g clip-path="url(#c31)">
<polyline points="923.7,1076.2 917.3,1080.7 709.0,1085.1 663.3,1089.4 635.3,1113.8 643.0,1154.0 649.3,1186.7 649.3,1218.4" fill="none" stroke="#34b070" stroke-width="2" stroke-linejoin="round"/>
<rect x="919.2" y="1071.7" width="9" height="9" fill="#2fbb6c"/>
<rect x="912.8" y="1076.2" width="9" height="9" fill="#2fbb6c"/>
<rect x="704.5" y="1080.6" width="9" height="9" fill="#2fbb6c"/>
<rect x="658.8" y="1084.9" width="9" height="9" fill="#2fbb6c"/>
<rect x="630.8" y="1109.3" width="9" height="9" fill="#2fbb6c"/>
<rect x="638.5" y="1149.5" width="9" height="9" fill="#2fbb6c"/>
<rect x="644.8" y="1182.2" width="9" height="9" fill="#2fbb6c"/>
<rect x="644.8" y="1213.9" width="9" height="9" fill="#2fbb6c"/>
<polyline points="766.9,1076.2 705.2,1080.7 763.6,1085.1 825.9,1089.4 696.8,1113.8 643.0,1154.4 651.8,1195.6 665.3,1219.0 660.7,1251.0 662.8,1268.0" fill="none" stroke="#300842" stroke-width="2" stroke-linejoin="round"/>
<rect x="762.4" y="1071.7" width="9" height="9" fill="#3a0a50"/>
<rect x="700.7" y="1076.2" width="9" height="9" fill="#3a0a50"/>
<rect x="759.1" y="1080.6" width="9" height="9" fill="#3a0a50"/>
<rect x="821.4" y="1084.9" width="9" height="9" fill="#3a0a50"/>
<rect x="692.3" y="1109.3" width="9" height="9" fill="#3a0a50"/>
<rect x="638.5" y="1149.9" width="9" height="9" fill="#3a0a50"/>
<rect x="647.3" y="1191.1" width="9" height="9" fill="#3a0a50"/>
<rect x="660.8" y="1214.5" width="9" height="9" fill="#3a0a50"/>
<rect x="656.2" y="1246.5" width="9" height="9" fill="#3a0a50"/>
<rect x="658.3" y="1263.5" width="9" height="9" fill="#3a0a50"/>
</g>
<text x="613.1" y="1086.4" font-size="30.5" letter-spacing="1" text-anchor="end">0</text>
<text x="613.1" y="1166.8" font-size="30.5" letter-spacing="1" text-anchor="end">500</text>
<text x="609.9" y="1247.0" font-size="30.5" letter-spacing="-0.2" text-anchor="end">1000</text>
<text x="624.8" y="1312.3" font-size="30.5" letter-spacing="1" text-anchor="middle">0</text>
<text x="811.5" y="1312.3" font-size="30.5" letter-spacing="1" text-anchor="middle">20</text>
<text x="996.3" y="1312.3" font-size="30.5" letter-spacing="1" text-anchor="middle">40</text>
<text x="810.8" y="1360.3" font-size="31" letter-spacing="1.7" text-anchor="middle">Lt:dFe</text>
</g>
<g>
<rect x="1125.5" y="1074.5" width="370.4" height="191.8" fill="none" stroke="#000" stroke-width="2.3" stroke-linejoin="round"/>
<clipPath id="c32"><rect x="1119.5" y="1068.5" width="382.4" height="203.8"/></clipPath>
<g clip-path="url(#c32)">
<polyline points="1281.6,1074.0 1493.6,1082.5 1172.0,1086.0 1170.8,1099.3 1202.7,1130.8 1144.2,1193.0 1167.1,1235.0" fill="none" stroke="#f2d400" stroke-width="2" stroke-linejoin="round"/>
<rect x="1277.1" y="1069.5" width="9" height="9" fill="#fadc0a"/>
<rect x="1489.1" y="1078.0" width="9" height="9" fill="#fadc0a"/>
<rect x="1167.5" y="1081.5" width="9" height="9" fill="#fadc0a"/>
<rect x="1166.3" y="1094.8" width="9" height="9" fill="#fadc0a"/>
<rect x="1198.2" y="1126.3" width="9" height="9" fill="#fadc0a"/>
<rect x="1139.7" y="1188.5" width="9" height="9" fill="#fadc0a"/>
<rect x="1162.6" y="1230.5" width="9" height="9" fill="#fadc0a"/>
<polyline points="1193.0,1074.0 1325.9,1075.0 1384.3,1085.1 1175.0,1088.0 1157.8,1112.3 1144.2,1135.9 1142.0,1195.0 1136.6,1235.0 1169.6,1268.0" fill="none" stroke="#aad01c" stroke-width="2" stroke-linejoin="round"/>
<rect x="1188.5" y="1069.5" width="9" height="9" fill="#b4da1e"/>
<rect x="1321.4" y="1070.5" width="9" height="9" fill="#b4da1e"/>
<rect x="1379.8" y="1080.6" width="9" height="9" fill="#b4da1e"/>
<rect x="1170.5" y="1083.5" width="9" height="9" fill="#b4da1e"/>
<rect x="1153.3" y="1107.8" width="9" height="9" fill="#b4da1e"/>
<rect x="1139.7" y="1131.4" width="9" height="9" fill="#b4da1e"/>
<rect x="1137.5" y="1190.5" width="9" height="9" fill="#b4da1e"/>
<rect x="1132.1" y="1230.5" width="9" height="9" fill="#b4da1e"/>
<rect x="1165.1" y="1263.5" width="9" height="9" fill="#b4da1e"/>
<polyline points="1272.4,1073.2 1316.7,1084.9 1151.3,1088.8 1146.0,1092.1 1203.4,1121.4 1160.7,1203.2 1183.6,1235.0 1164.5,1268.0" fill="none" stroke="#1a8a6c" stroke-width="2" stroke-linejoin="round"/>
<rect x="1267.9" y="1068.7" width="9" height="9" fill="#1c9674"/>
<rect x="1312.2" y="1080.4" width="9" height="9" fill="#1c9674"/>
<rect x="1146.8" y="1084.3" width="9" height="9" fill="#1c9674"/>
<rect x="1141.5" y="1087.6" width="9" height="9" fill="#1c9674"/>
<rect x="1198.9" y="1116.9" width="9" height="9" fill="#1c9674"/>
<rect x="1156.2" y="1198.7" width="9" height="9" fill="#1c9674"/>
<rect x="1179.1" y="1230.5" width="9" height="9" fill="#1c9674"/>
<rect x="1160.0" y="1263.5" width="9" height="9" fill="#1c9674"/>
<polyline points="1147.4,1076.5 1163.0,1081.0 1174.7,1079.7 1151.8,1090.1 1149.3,1185.4 1143.0,1218.4 1145.5,1235.0" fill="none" stroke="#24487e" stroke-width="2" stroke-linejoin="round"/>
<rect x="1142.9" y="1072.0" width="9" height="9" fill="#2a5896"/>
<rect x="1158.5" y="1076.5" width="9" height="9" fill="#2a5896"/>
<rect x="1170.2" y="1075.2" width="9" height="9" fill="#2a5896"/>
<rect x="1147.3" y="1085.6" width="9" height="9" fill="#2a5896"/>
<rect x="1144.8" y="1180.9" width="9" height="9" fill="#2a5896"/>
<rect x="1138.5" y="1213.9" width="9" height="9" fill="#2a5896"/>
<rect x="1141.0" y="1230.5" width="9" height="9" fill="#2a5896"/>
<polyline points="1383.0,1076.7 1267.2,1079.7 1208.6,1083.0 1173.4,1087.5 1174.7,1113.6 1159.5,1138.4 1158.2,1194.3 1145.5,1218.4 1155.7,1268.0" fill="none" stroke="#000000" stroke-width="2" stroke-linejoin="round"/>
<rect x="1378.5" y="1072.2" width="9" height="9" fill="#000000"/>
<rect x="1262.7" y="1075.2" width="9" height="9" fill="#000000"/>
<rect x="1204.1" y="1078.5" width="9" height="9" fill="#000000"/>
<rect x="1168.9" y="1083.0" width="9" height="9" fill="#000000"/>
<rect x="1170.2" y="1109.1" width="9" height="9" fill="#000000"/>
<rect x="1155.0" y="1133.9" width="9" height="9" fill="#000000"/>
<rect x="1153.7" y="1189.8" width="9" height="9" fill="#000000"/>
<rect x="1141.0" y="1213.9" width="9" height="9" fill="#000000"/>
<rect x="1151.2" y="1263.5" width="9" height="9" fill="#000000"/>
</g>
<text x="1113.0" y="1086.4" font-size="30.5" letter-spacing="1" text-anchor="end">0</text>
<text x="1113.0" y="1166.8" font-size="30.5" letter-spacing="1" text-anchor="end">500</text>
<text x="1109.8" y="1247.0" font-size="30.5" letter-spacing="-0.2" text-anchor="end">1000</text>
<text x="1124.7" y="1312.3" font-size="30.5" letter-spacing="1" text-anchor="middle">0</text>
<text x="1311.4" y="1312.3" font-size="30.5" letter-spacing="1" text-anchor="middle">20</text>
<text x="1496.2" y="1312.3" font-size="30.5" letter-spacing="1" text-anchor="middle">40</text>
<text x="1311.7" y="1360.3" font-size="31" letter-spacing="1.7" text-anchor="middle">Lt:dFe</text>
</g>
<text transform="translate(39,1170.4) rotate(-90)" x="0" y="0" font-size="31" letter-spacing="1.9" text-anchor="middle">Depth (m)</text>
<g>
<rect x="123.6" y="1415.8" width="370.6" height="194.4" fill="none" stroke="#000" stroke-width="2.3" stroke-linejoin="round"/>
<clipPath id="c40"><rect x="117.6" y="1409.8" width="382.6" height="206.4"/></clipPath>
<g clip-path="url(#c40)">
<polyline points="270.0,1422.8 230.0,1426.0 159.5,1431.1 158.2,1440.0 271.3,1471.8 226.8,1506.1 183.6,1521.3 201.4,1535.3" fill="none" stroke="#56c036" stroke-width="2" stroke-linejoin="round"/>
<rect x="265.5" y="1418.3" width="9" height="9" fill="#62d23c"/>
<rect x="225.5" y="1421.5" width="9" height="9" fill="#62d23c"/>
<rect x="155.0" y="1426.6" width="9" height="9" fill="#62d23c"/>
<rect x="153.7" y="1435.5" width="9" height="9" fill="#62d23c"/>
<rect x="266.8" y="1467.3" width="9" height="9" fill="#62d23c"/>
<rect x="222.3" y="1501.6" width="9" height="9" fill="#62d23c"/>
<rect x="179.1" y="1516.8" width="9" height="9" fill="#62d23c"/>
<rect x="196.9" y="1530.8" width="9" height="9" fill="#62d23c"/>
<polyline points="200.0,1423.0 164.5,1431.1 221.7,1433.7 212.8,1461.6 244.6,1508.6 173.4,1565.8 491.0,1584.3 243.3,1607.2" fill="none" stroke="#1c6680" stroke-width="2" stroke-linejoin="round"/>
<rect x="195.5" y="1418.5" width="9" height="9" fill="#21769a"/>
<rect x="160.0" y="1426.6" width="9" height="9" fill="#21769a"/>
<rect x="217.2" y="1429.2" width="9" height="9" fill="#21769a"/>
<rect x="208.3" y="1457.1" width="9" height="9" fill="#21769a"/>
<rect x="240.1" y="1504.1" width="9" height="9" fill="#21769a"/>
<rect x="168.9" y="1561.3" width="9" height="9" fill="#21769a"/>
<rect x="486.5" y="1579.8" width="9" height="9" fill="#21769a"/>
<rect x="238.8" y="1602.7" width="9" height="9" fill="#21769a"/>
<polyline points="188.7,1421.0 214.1,1426.1 168.4,1445.1 196.3,1490.3 296.7,1531.5 350.0,1565.8 174.7,1584.8 231.9,1610.3" fill="none" stroke="#30307a" stroke-width="2" stroke-linejoin="round"/>
<rect x="184.2" y="1416.5" width="9" height="9" fill="#3a3990"/>
<rect x="209.6" y="1421.6" width="9" height="9" fill="#3a3990"/>
<rect x="163.9" y="1440.6" width="9" height="9" fill="#3a3990"/>
<rect x="191.8" y="1485.8" width="9" height="9" fill="#3a3990"/>
<rect x="292.2" y="1527.0" width="9" height="9" fill="#3a3990"/>
<rect x="345.5" y="1561.3" width="9" height="9" fill="#3a3990"/>
<rect x="170.2" y="1580.3" width="9" height="9" fill="#3a3990"/>
<rect x="227.4" y="1605.8" width="9" height="9" fill="#3a3990"/>
<polyline points="149.3,1421.7 231.9,1427.3 193.8,1441.3 156.9,1471.8 153.1,1546.2 195.0,1565.8" fill="none" stroke="#300a5e" stroke-width="2" stroke-linejoin="round"/>
<rect x="144.8" y="1417.2" width="9" height="9" fill="#3c0c74"/>
<rect x="227.4" y="1422.8" width="9" height="9" fill="#3c0c74"/>
<rect x="189.3" y="1436.8" width="9" height="9" fill="#3c0c74"/>
<rect x="152.4" y="1467.3" width="9" height="9" fill="#3c0c74"/>
<rect x="148.6" y="1541.7" width="9" height="9" fill="#3c0c74"/>
<rect x="190.5" y="1561.3" width="9" height="9" fill="#3c0c74"/>
</g>
<text x="111.1" y="1427.7" font-size="30.5" letter-spacing="1" text-anchor="end">0</text>
<text x="111.1" y="1617.5" font-size="30.5" letter-spacing="1" text-anchor="end">500</text>
<text x="122.8" y="1656.2" font-size="30.5" letter-spacing="1" text-anchor="middle">0</text>
<text x="271.8" y="1656.2" font-size="30.5" letter-spacing="1" text-anchor="middle">1</text>
<text x="421.6" y="1656.2" font-size="30.5" letter-spacing="1" text-anchor="middle">2</text>
<text x="309.9" y="1704.2" font-size="31" letter-spacing="1.7" text-anchor="middle">L&#39; (nM Eq M Fe)</text>
</g>
<g>
<rect x="625.6" y="1415.8" width="368.3" height="194.4" fill="none" stroke="#000" stroke-width="2.3" stroke-linejoin="round"/>
<clipPath id="c41"><rect x="619.6" y="1409.8" width="380.3" height="206.4"/></clipPath>
<g clip-path="url(#c41)">
<polyline points="763.6,1417.7 742.0,1421.7 702.7,1424.3 723.0,1432.4 632.3,1455.3 705.2,1529.0 707.7,1561.5" fill="none" stroke="#34b070" stroke-width="2" stroke-linejoin="round"/>
<rect x="759.1" y="1413.2" width="9" height="9" fill="#2fbb6c"/>
<rect x="737.5" y="1417.2" width="9" height="9" fill="#2fbb6c"/>
<rect x="698.2" y="1419.8" width="9" height="9" fill="#2fbb6c"/>
<rect x="718.5" y="1427.9" width="9" height="9" fill="#2fbb6c"/>
<rect x="627.8" y="1450.8" width="9" height="9" fill="#2fbb6c"/>
<rect x="700.7" y="1524.5" width="9" height="9" fill="#2fbb6c"/>
<rect x="703.2" y="1557.0" width="9" height="9" fill="#2fbb6c"/>
<polyline points="687.4,1417.7 658.2,1422.8 686.6,1427.3 764.4,1431.1 846.7,1455.3 689.2,1496.4 735.7,1537.8 865.3,1561.5 815.7,1595.0 851.3,1610.3" fill="none" stroke="#300842" stroke-width="2" stroke-linejoin="round"/>
<rect x="682.9" y="1413.2" width="9" height="9" fill="#3a0a50"/>
<rect x="653.7" y="1418.3" width="9" height="9" fill="#3a0a50"/>
<rect x="682.1" y="1422.8" width="9" height="9" fill="#3a0a50"/>
<rect x="759.9" y="1426.6" width="9" height="9" fill="#3a0a50"/>
<rect x="842.2" y="1450.8" width="9" height="9" fill="#3a0a50"/>
<rect x="684.7" y="1491.9" width="9" height="9" fill="#3a0a50"/>
<rect x="731.2" y="1533.3" width="9" height="9" fill="#3a0a50"/>
<rect x="860.8" y="1557.0" width="9" height="9" fill="#3a0a50"/>
<rect x="811.2" y="1590.5" width="9" height="9" fill="#3a0a50"/>
<rect x="846.8" y="1605.8" width="9" height="9" fill="#3a0a50"/>
</g>
<text x="613.1" y="1427.7" font-size="30.5" letter-spacing="1" text-anchor="end">0</text>
<text x="613.1" y="1509.2" font-size="30.5" letter-spacing="1" text-anchor="end">500</text>
<text x="609.9" y="1590.5" font-size="30.5" letter-spacing="-0.2" text-anchor="end">1000</text>
<text x="624.8" y="1656.2" font-size="30.5" letter-spacing="1" text-anchor="middle">0</text>
<text x="773.8" y="1656.2" font-size="30.5" letter-spacing="1" text-anchor="middle">1</text>
<text x="923.6" y="1656.2" font-size="30.5" letter-spacing="1" text-anchor="middle">2</text>
<text x="810.8" y="1704.2" font-size="31" letter-spacing="1.7" text-anchor="middle">L&#39; (nM Eq M Fe)</text>
</g>
<g>
<rect x="1125.5" y="1415.8" width="370.4" height="194.4" fill="none" stroke="#000" stroke-width="2.3" stroke-linejoin="round"/>
<clipPath id="c42"><rect x="1119.5" y="1409.8" width="382.4" height="206.4"/></clipPath>
<g clip-path="url(#c42)">
<polyline points="1225.0,1416.0 1317.0,1424.8 1264.9,1440.0 1391.9,1471.8 1176.0,1536.6 1287.8,1578.5" fill="none" stroke="#f2d400" stroke-width="2" stroke-linejoin="round"/>
<rect x="1220.5" y="1411.5" width="9" height="9" fill="#fadc0a"/>
<rect x="1312.5" y="1420.3" width="9" height="9" fill="#fadc0a"/>
<rect x="1260.4" y="1435.5" width="9" height="9" fill="#fadc0a"/>
<rect x="1387.4" y="1467.3" width="9" height="9" fill="#fadc0a"/>
<rect x="1171.5" y="1532.1" width="9" height="9" fill="#fadc0a"/>
<rect x="1283.3" y="1574.0" width="9" height="9" fill="#fadc0a"/>
<polyline points="1150.0,1430.0 1244.6,1427.3 1224.2,1455.3 1198.8,1478.1 1191.2,1545.5 1145.5,1578.5 1322.1,1610.3" fill="none" stroke="#aad01c" stroke-width="2" stroke-linejoin="round"/>
<rect x="1145.5" y="1425.5" width="9" height="9" fill="#b4da1e"/>
<rect x="1240.1" y="1422.8" width="9" height="9" fill="#b4da1e"/>
<rect x="1219.7" y="1450.8" width="9" height="9" fill="#b4da1e"/>
<rect x="1194.3" y="1473.6" width="9" height="9" fill="#b4da1e"/>
<rect x="1186.7" y="1541.0" width="9" height="9" fill="#b4da1e"/>
<rect x="1141.0" y="1574.0" width="9" height="9" fill="#b4da1e"/>
<rect x="1317.6" y="1605.8" width="9" height="9" fill="#b4da1e"/>
<polyline points="1191.2,1416.0 1235.7,1423.5 1151.8,1433.7 1295.4,1464.2 1221.7,1545.5 1296.7,1578.5 1224.2,1610.3" fill="none" stroke="#1a8a6c" stroke-width="2" stroke-linejoin="round"/>
<rect x="1186.7" y="1411.5" width="9" height="9" fill="#1c9674"/>
<rect x="1231.2" y="1419.0" width="9" height="9" fill="#1c9674"/>
<rect x="1147.3" y="1429.2" width="9" height="9" fill="#1c9674"/>
<rect x="1290.9" y="1459.7" width="9" height="9" fill="#1c9674"/>
<rect x="1217.2" y="1541.0" width="9" height="9" fill="#1c9674"/>
<rect x="1292.2" y="1574.0" width="9" height="9" fill="#1c9674"/>
<rect x="1219.7" y="1605.8" width="9" height="9" fill="#1c9674"/>
<polyline points="1202.7,1416.7 1146.8,1421.0 1148.0,1424.8 1179.8,1431.1 1192.5,1529.0 1160.7,1561.5 1174.7,1578.5" fill="none" stroke="#24487e" stroke-width="2" stroke-linejoin="round"/>
<rect x="1198.2" y="1412.2" width="9" height="9" fill="#2a5896"/>
<rect x="1142.3" y="1416.5" width="9" height="9" fill="#2a5896"/>
<rect x="1143.5" y="1420.3" width="9" height="9" fill="#2a5896"/>
<rect x="1175.3" y="1426.6" width="9" height="9" fill="#2a5896"/>
<rect x="1188.0" y="1524.5" width="9" height="9" fill="#2a5896"/>
<rect x="1156.2" y="1557.0" width="9" height="9" fill="#2a5896"/>
<rect x="1170.2" y="1574.0" width="9" height="9" fill="#2a5896"/>
<polyline points="1441.5,1417.7 1215.4,1423.5 1188.7,1423.5 1214.1,1429.9 1296.7,1455.3 1244.6,1480.7 1280.1,1537.8 1203.4,1561.5 1314.4,1610.3" fill="none" stroke="#000000" stroke-width="2" stroke-linejoin="round"/>
<rect x="1437.0" y="1413.2" width="9" height="9" fill="#000000"/>
<rect x="1210.9" y="1419.0" width="9" height="9" fill="#000000"/>
<rect x="1184.2" y="1419.0" width="9" height="9" fill="#000000"/>
<rect x="1209.6" y="1425.4" width="9" height="9" fill="#000000"/>
<rect x="1292.2" y="1450.8" width="9" height="9" fill="#000000"/>
<rect x="1240.1" y="1476.2" width="9" height="9" fill="#000000"/>
<rect x="1275.6" y="1533.3" width="9" height="9" fill="#000000"/>
<rect x="1198.9" y="1557.0" width="9" height="9" fill="#000000"/>
<rect x="1309.9" y="1605.8" width="9" height="9" fill="#000000"/>
</g>
<text x="1113.0" y="1427.7" font-size="30.5" letter-spacing="1" text-anchor="end">0</text>
<text x="1113.0" y="1509.2" font-size="30.5" letter-spacing="1" text-anchor="end">500</text>
<text x="1109.8" y="1590.5" font-size="30.5" letter-spacing="-0.2" text-anchor="end">1000</text>
<text x="1124.7" y="1656.2" font-size="30.5" letter-spacing="1" text-anchor="middle">0</text>
<text x="1273.7" y="1656.2" font-size="30.5" letter-spacing="1" text-anchor="middle">1</text>
<text x="1423.5" y="1656.2" font-size="30.5" letter-spacing="1" text-anchor="middle">2</text>
<text x="1311.7" y="1704.2" font-size="31" letter-spacing="1.7" text-anchor="middle">L&#39; (nM Eq M Fe)</text>
</g>
<text transform="translate(39,1513.0) rotate(-90)" x="0" y="0" font-size="31" letter-spacing="1.9" text-anchor="middle">Depth (m)</text>
<g>
<rect x="123.6" y="1759.5" width="370.6" height="191.8" fill="none" stroke="#000" stroke-width="2.3" stroke-linejoin="round"/>
<clipPath id="c50"><rect x="117.6" y="1753.5" width="382.6" height="203.8"/></clipPath>
<g clip-path="url(#c50)">
<polyline points="125.2,1765.8 145.0,1772.0 247.1,1780.0 130.2,1783.0 188.7,1814.8 145.5,1847.8 122.6,1863.1 122.6,1877.0" fill="none" stroke="#56c036" stroke-width="2" stroke-linejoin="round"/>
<rect x="120.7" y="1761.3" width="9" height="9" fill="#62d23c"/>
<rect x="140.5" y="1767.5" width="9" height="9" fill="#62d23c"/>
<rect x="242.6" y="1775.5" width="9" height="9" fill="#62d23c"/>
<rect x="125.7" y="1778.5" width="9" height="9" fill="#62d23c"/>
<rect x="184.2" y="1810.3" width="9" height="9" fill="#62d23c"/>
<rect x="141.0" y="1843.3" width="9" height="9" fill="#62d23c"/>
<rect x="118.1" y="1858.6" width="9" height="9" fill="#62d23c"/>
<rect x="118.1" y="1872.5" width="9" height="9" fill="#62d23c"/>
<polyline points="164.5,1762.7 221.7,1772.9 197.6,1776.7 139.1,1804.6 130.2,1851.6 306.8,1907.5 290.3,1926.6 202.7,1949.4" fill="none" stroke="#1c6680" stroke-width="2" stroke-linejoin="round"/>
<rect x="160.0" y="1758.2" width="9" height="9" fill="#21769a"/>
<rect x="217.2" y="1768.4" width="9" height="9" fill="#21769a"/>
<rect x="193.1" y="1772.2" width="9" height="9" fill="#21769a"/>
<rect x="134.6" y="1800.1" width="9" height="9" fill="#21769a"/>
<rect x="125.7" y="1847.1" width="9" height="9" fill="#21769a"/>
<rect x="302.3" y="1903.0" width="9" height="9" fill="#21769a"/>
<rect x="285.8" y="1922.1" width="9" height="9" fill="#21769a"/>
<rect x="198.2" y="1944.9" width="9" height="9" fill="#21769a"/>
<polyline points="324.6,1765.8 242.0,1766.5 177.2,1774.1 134.1,1788.1 140.4,1832.6 183.6,1874.0 217.9,1907.5 122.6,1925.3 153.1,1952.0" fill="none" stroke="#30307a" stroke-width="2" stroke-linejoin="round"/>
<rect x="320.1" y="1761.3" width="9" height="9" fill="#3a3990"/>
<rect x="237.5" y="1762.0" width="9" height="9" fill="#3a3990"/>
<rect x="172.7" y="1769.6" width="9" height="9" fill="#3a3990"/>
<rect x="129.6" y="1783.6" width="9" height="9" fill="#3a3990"/>
<rect x="135.9" y="1828.1" width="9" height="9" fill="#3a3990"/>
<rect x="179.1" y="1869.5" width="9" height="9" fill="#3a3990"/>
<rect x="213.4" y="1903.0" width="9" height="9" fill="#3a3990"/>
<rect x="118.1" y="1920.8" width="9" height="9" fill="#3a3990"/>
<rect x="148.6" y="1947.5" width="9" height="9" fill="#3a3990"/>
<polyline points="242.0,1765.8 148.0,1769.1 143.0,1774.1 139.1,1785.6 136.6,1814.8 135.3,1888.5 139.1,1907.5" fill="none" stroke="#300a5e" stroke-width="2" stroke-linejoin="round"/>
<rect x="237.5" y="1761.3" width="9" height="9" fill="#3c0c74"/>
<rect x="143.5" y="1764.6" width="9" height="9" fill="#3c0c74"/>
<rect x="138.5" y="1769.6" width="9" height="9" fill="#3c0c74"/>
<rect x="134.6" y="1781.1" width="9" height="9" fill="#3c0c74"/>
<rect x="132.1" y="1810.3" width="9" height="9" fill="#3c0c74"/>
<rect x="130.8" y="1884.0" width="9" height="9" fill="#3c0c74"/>
<rect x="134.6" y="1903.0" width="9" height="9" fill="#3c0c74"/>
</g>
<text x="111.1" y="1771.4" font-size="30.5" letter-spacing="1" text-anchor="end">0</text>
<text x="111.1" y="1958.6" font-size="30.5" letter-spacing="1" text-anchor="end">500</text>
<text x="122.8" y="1997.3" font-size="30.5" letter-spacing="1" text-anchor="middle">0</text>
<text x="229.3" y="1997.3" font-size="30.5" letter-spacing="1" text-anchor="middle">1</text>
<text x="335.0" y="1997.3" font-size="30.5" letter-spacing="1" text-anchor="middle">2</text>
<text x="442.0" y="1997.3" font-size="30.5" letter-spacing="1" text-anchor="middle">3</text>
<text x="309.9" y="2045.3" font-size="31" letter-spacing="1.7" text-anchor="middle">Fe&#39; (pM)</text>
</g>
<g>
<rect x="625.6" y="1759.5" width="368.3" height="191.8" fill="none" stroke="#000" stroke-width="2.3" stroke-linejoin="round"/>
<clipPath id="c51"><rect x="619.6" y="1753.5" width="380.3" height="203.8"/></clipPath>
<g clip-path="url(#c51)">
<polyline points="659.5,1760.7 651.8,1765.8 672.2,1770.3 650.6,1775.4 703.9,1798.8 640.4,1872.0 658.2,1903.7" fill="none" stroke="#34b070" stroke-width="2" stroke-linejoin="round"/>
<rect x="655.0" y="1756.2" width="9" height="9" fill="#2fbb6c"/>
<rect x="647.3" y="1761.3" width="9" height="9" fill="#2fbb6c"/>
<rect x="667.7" y="1765.8" width="9" height="9" fill="#2fbb6c"/>
<rect x="646.1" y="1770.9" width="9" height="9" fill="#2fbb6c"/>
<rect x="699.4" y="1794.3" width="9" height="9" fill="#2fbb6c"/>
<rect x="635.9" y="1867.5" width="9" height="9" fill="#2fbb6c"/>
<rect x="653.7" y="1899.2" width="9" height="9" fill="#2fbb6c"/>
<polyline points="641.7,1760.7 718.7,1766.5 626.4,1770.3 662.8,1774.1 692.5,1798.8 686.9,1838.9 669.6,1879.6 802.5,1903.7 670.4,1936.7 758.5,1952.5" fill="none" stroke="#300842" stroke-width="2" stroke-linejoin="round"/>
<rect x="637.2" y="1756.2" width="9" height="9" fill="#3a0a50"/>
<rect x="714.2" y="1762.0" width="9" height="9" fill="#3a0a50"/>
<rect x="621.9" y="1765.8" width="9" height="9" fill="#3a0a50"/>
<rect x="658.3" y="1769.6" width="9" height="9" fill="#3a0a50"/>
<rect x="688.0" y="1794.3" width="9" height="9" fill="#3a0a50"/>
<rect x="682.4" y="1834.4" width="9" height="9" fill="#3a0a50"/>
<rect x="665.1" y="1875.1" width="9" height="9" fill="#3a0a50"/>
<rect x="798.0" y="1899.2" width="9" height="9" fill="#3a0a50"/>
<rect x="665.9" y="1932.2" width="9" height="9" fill="#3a0a50"/>
<rect x="754.0" y="1948.0" width="9" height="9" fill="#3a0a50"/>
</g>
<text x="613.1" y="1771.4" font-size="30.5" letter-spacing="1" text-anchor="end">0</text>
<text x="613.1" y="1851.8" font-size="30.5" letter-spacing="1" text-anchor="end">500</text>
<text x="609.9" y="1932.0" font-size="30.5" letter-spacing="-0.2" text-anchor="end">1000</text>
<text x="624.8" y="1997.3" font-size="30.5" letter-spacing="1" text-anchor="middle">0</text>
<text x="731.3" y="1997.3" font-size="30.5" letter-spacing="1" text-anchor="middle">1</text>
<text x="837.0" y="1997.3" font-size="30.5" letter-spacing="1" text-anchor="middle">2</text>
<text x="944.0" y="1997.3" font-size="30.5" letter-spacing="1" text-anchor="middle">3</text>
<text x="810.8" y="2045.3" font-size="31" letter-spacing="1.7" text-anchor="middle">Fe&#39; (pM)</text>
</g>
<g>
<rect x="1125.5" y="1759.5" width="370.4" height="191.8" fill="none" stroke="#000" stroke-width="2.3" stroke-linejoin="round"/>
<clipPath id="c52"><rect x="1119.5" y="1753.5" width="382.4" height="203.8"/></clipPath>
<g clip-path="url(#c52)">
<polyline points="1243.3,1767.8 1178.5,1785.6 1216.6,1816.1 1127.7,1878.3 1149.3,1919.7" fill="none" stroke="#f2d400" stroke-width="2" stroke-linejoin="round"/>
<rect x="1238.8" y="1763.3" width="9" height="9" fill="#fadc0a"/>
<rect x="1174.0" y="1781.1" width="9" height="9" fill="#fadc0a"/>
<rect x="1212.1" y="1811.6" width="9" height="9" fill="#fadc0a"/>
<rect x="1123.2" y="1873.8" width="9" height="9" fill="#fadc0a"/>
<rect x="1144.8" y="1915.2" width="9" height="9" fill="#fadc0a"/>
<polyline points="1129.0,1760.7 1200.1,1769.0 1130.2,1798.3 1273.8,1821.1 1385.6,1888.5 1186.1,1919.7 1178.5,1952.5" fill="none" stroke="#aad01c" stroke-width="2" stroke-linejoin="round"/>
<rect x="1124.5" y="1756.2" width="9" height="9" fill="#b4da1e"/>
<rect x="1195.6" y="1764.5" width="9" height="9" fill="#b4da1e"/>
<rect x="1125.7" y="1793.8" width="9" height="9" fill="#b4da1e"/>
<rect x="1269.3" y="1816.6" width="9" height="9" fill="#b4da1e"/>
<rect x="1381.1" y="1884.0" width="9" height="9" fill="#b4da1e"/>
<rect x="1181.6" y="1915.2" width="9" height="9" fill="#b4da1e"/>
<rect x="1174.0" y="1948.0" width="9" height="9" fill="#b4da1e"/>
<polyline points="1183.6,1768.3 1172.2,1778.5 1456.7,1807.2 1207.7,1888.5 1206.5,1919.7 1129.0,1952.5" fill="none" stroke="#1a8a6c" stroke-width="2" stroke-linejoin="round"/>
<rect x="1179.1" y="1763.8" width="9" height="9" fill="#1c9674"/>
<rect x="1167.7" y="1774.0" width="9" height="9" fill="#1c9674"/>
<rect x="1452.2" y="1802.7" width="9" height="9" fill="#1c9674"/>
<rect x="1203.2" y="1884.0" width="9" height="9" fill="#1c9674"/>
<rect x="1202.0" y="1915.2" width="9" height="9" fill="#1c9674"/>
<rect x="1124.5" y="1948.0" width="9" height="9" fill="#1c9674"/>
<polyline points="1153.1,1760.2 1125.2,1769.0 1179.8,1871.4 1167.1,1903.7 1207.0,1919.7" fill="none" stroke="#24487e" stroke-width="2" stroke-linejoin="round"/>
<rect x="1148.6" y="1755.7" width="9" height="9" fill="#2a5896"/>
<rect x="1120.7" y="1764.5" width="9" height="9" fill="#2a5896"/>
<rect x="1175.3" y="1866.9" width="9" height="9" fill="#2a5896"/>
<rect x="1162.6" y="1899.2" width="9" height="9" fill="#2a5896"/>
<rect x="1202.5" y="1915.2" width="9" height="9" fill="#2a5896"/>
<polyline points="1270.5,1761.4 1165.8,1764.0 1151.8,1767.8 1140.4,1772.9 1185.6,1798.8 1187.4,1823.2 1296.7,1879.6 1305.0,1903.7 1344.9,1952.5" fill="none" stroke="#000000" stroke-width="2" stroke-linejoin="round"/>
<rect x="1266.0" y="1756.9" width="9" height="9" fill="#000000"/>
<rect x="1161.3" y="1759.5" width="9" height="9" fill="#000000"/>
<rect x="1147.3" y="1763.3" width="9" height="9" fill="#000000"/>
<rect x="1135.9" y="1768.4" width="9" height="9" fill="#000000"/>
<rect x="1181.1" y="1794.3" width="9" height="9" fill="#000000"/>
<rect x="1182.9" y="1818.7" width="9" height="9" fill="#000000"/>
<rect x="1292.2" y="1875.1" width="9" height="9" fill="#000000"/>
<rect x="1300.5" y="1899.2" width="9" height="9" fill="#000000"/>
<rect x="1340.4" y="1948.0" width="9" height="9" fill="#000000"/>
</g>
<text x="1113.0" y="1771.4" font-size="30.5" letter-spacing="1" text-anchor="end">0</text>
<text x="1113.0" y="1851.8" font-size="30.5" letter-spacing="1" text-anchor="end">500</text>
<text x="1109.8" y="1932.0" font-size="30.5" letter-spacing="-0.2" text-anchor="end">1000</text>
<text x="1124.7" y="1997.3" font-size="30.5" letter-spacing="1" text-anchor="middle">0</text>
<text x="1231.2" y="1997.3" font-size="30.5" letter-spacing="1" text-anchor="middle">1</text>
<text x="1336.9" y="1997.3" font-size="30.5" letter-spacing="1" text-anchor="middle">2</text>
<text x="1443.9" y="1997.3" font-size="30.5" letter-spacing="1" text-anchor="middle">3</text>
<text x="1311.7" y="2045.3" font-size="31" letter-spacing="1.7" text-anchor="middle">Fe&#39; (pM)</text>
</g>
<text transform="translate(39,1855.4) rotate(-90)" x="0" y="0" font-size="31" letter-spacing="1.9" text-anchor="middle">Depth (m)</text>
<rect x="235.5" y="2080.8" width="144.5" height="197.3" fill="#fff" stroke="#000" stroke-width="2.5"/>
<line x1="235.5" y1="2122.8" x2="380.0" y2="2122.8" stroke="#000" stroke-width="2.5"/>
<text x="308.8" y="2113.3" font-size="28" font-weight="bold" letter-spacing="0.4" text-anchor="middle">Stations</text>
<line x1="243.5" y1="2145.7" x2="331.4" y2="2145.7" stroke="#56c036" stroke-width="2"/>
<rect x="283.3" y="2141.2" width="9" height="9" fill="#62d23c"/>
<text x="339.0" y="2157.8" font-size="28" letter-spacing="0.6">10</text>
<line x1="243.5" y1="2183.2" x2="331.4" y2="2183.2" stroke="#1c6680" stroke-width="2"/>
<rect x="283.3" y="2178.7" width="9" height="9" fill="#21769a"/>
<text x="339.0" y="2193.5" font-size="28" letter-spacing="0.6">14</text>
<line x1="243.5" y1="2219.3" x2="331.4" y2="2219.3" stroke="#30307a" stroke-width="2"/>
<rect x="283.3" y="2214.8" width="9" height="9" fill="#3a3990"/>
<text x="339.0" y="2230.7" font-size="28" letter-spacing="0.6">16</text>
<line x1="243.5" y1="2256.5" x2="331.4" y2="2256.5" stroke="#300a5e" stroke-width="2"/>
<rect x="283.3" y="2252.0" width="9" height="9" fill="#3c0c74"/>
<text x="339.0" y="2267.0" font-size="28" letter-spacing="0.6">17</text>
<rect x="737.6" y="2081.1" width="144.2" height="122.0" fill="#fff" stroke="#000" stroke-width="2.5"/>
<line x1="737.6" y1="2123.4" x2="881.8" y2="2123.4" stroke="#000" stroke-width="2.5"/>
<text x="810.7" y="2113.6" font-size="28" font-weight="bold" letter-spacing="0.4" text-anchor="middle">Stations</text>
<line x1="745.2" y1="2145.6" x2="833.7" y2="2145.6" stroke="#34b070" stroke-width="2"/>
<rect x="785.3" y="2141.1" width="9" height="9" fill="#2fbb6c"/>
<text x="840.6" y="2157.4" font-size="28" letter-spacing="0.6">11</text>
<line x1="745.2" y1="2183.2" x2="833.7" y2="2183.2" stroke="#300842" stroke-width="2"/>
<rect x="785.3" y="2178.7" width="9" height="9" fill="#3a0a50"/>
<text x="840.6" y="2193.1" font-size="28" letter-spacing="0.6">18</text>
<rect x="1237.4" y="2081.1" width="144.4" height="234.0" fill="#fff" stroke="#000" stroke-width="2.5"/>
<line x1="1237.4" y1="2125.1" x2="1381.8" y2="2125.1" stroke="#000" stroke-width="2.5"/>
<text x="1310.6" y="2113.6" font-size="28" font-weight="bold" letter-spacing="0.4" text-anchor="middle">Stations</text>
<line x1="1244" y1="2148.0" x2="1333.2" y2="2148.0" stroke="#f2d400" stroke-width="2"/>
<rect x="1285.3" y="2143.5" width="9" height="9" fill="#fadc0a"/>
<text x="1340.0" y="2158.3" font-size="28" letter-spacing="0.6">1</text>
<line x1="1244" y1="2183.5" x2="1333.2" y2="2183.5" stroke="#aad01c" stroke-width="2"/>
<rect x="1285.3" y="2179.0" width="9" height="9" fill="#b4da1e"/>
<text x="1340.0" y="2193.8" font-size="28" letter-spacing="0.6">9</text>
<line x1="1244" y1="2221.3" x2="1333.2" y2="2221.3" stroke="#1a8a6c" stroke-width="2"/>
<rect x="1285.3" y="2216.8" width="9" height="9" fill="#1c9674"/>
<text x="1340.0" y="2231.6" font-size="28" letter-spacing="0.6">12</text>
<line x1="1244" y1="2257.0" x2="1333.2" y2="2257.0" stroke="#24487e" stroke-width="2"/>
<rect x="1285.3" y="2252.5" width="9" height="9" fill="#2a5896"/>
<text x="1340.0" y="2269.7" font-size="28" letter-spacing="0.6">15</text>
<line x1="1244" y1="2295.1" x2="1333.2" y2="2295.1" stroke="#000000" stroke-width="2"/>
<rect x="1285.3" y="2290.6" width="9" height="9" fill="#000000"/>
<text x="1340.0" y="2306.6" font-size="28" letter-spacing="0.6">19</text>
</g></g>
</svg>
</body></html>
